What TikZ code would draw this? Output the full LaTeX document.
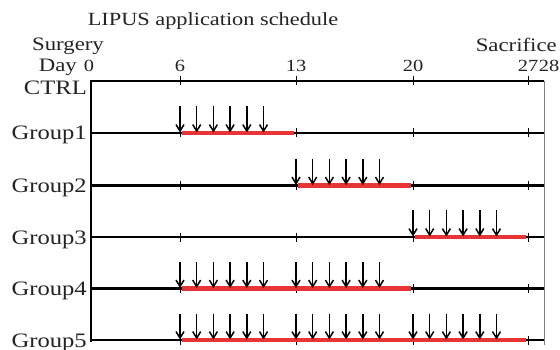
\documentclass[tikz,border=0pt]{standalone}
\usepackage{fontspec}
\setmainfont{Liberation Serif}
\newfontfamily\wideserif[FakeStretch=1.2]{Liberation Serif}
\usepackage{tikz}
\usetikzlibrary{arrows.meta}
\definecolor{barred}{RGB}{232,52,52}
\definecolor{inkgray}{RGB}{35,35,35}

\tikzset{
  rowline/.style={line width=2.2pt,black},
  redbar/.style={line width=4.5pt,barred},
  tickmark/.style={line width=0.9pt,black},
  shot/.style={line width=1.5pt,-{Straight Barb[length=6.5pt,width=8pt]}},
  lbl/.style={inner sep=0pt,text=inkgray,font={\wideserif\fontsize{20.5}{21}\selectfont}},
  toplbl/.style={inner sep=0pt,text=inkgray,font={\wideserif\fontsize{19}{20}\selectfont}},
  daylbl/.style={inner sep=0pt,text=inkgray,font={\wideserif\fontsize{17}{18}\selectfont}}
}

% six daily shots from day #2 on row #1
\newcommand\shots[2]{%
  \foreach \k in {0,...,5}{
    \path (#1-#2) ++(\k*16.7,-0.5) coordinate (tip) ++(0,-26) coordinate (tail);
    \draw[shot] (tail) -- (tip);
  }}

\begin{document}
\begin{tikzpicture}[x=1pt,y=-1pt]
    \useasboundingbox (0,0) rectangle (560,350);

    % day positions on every row
    \foreach \r/\y in {ctrl/81,g1/133,g2/185.5,g3/237,g4/288.5,g5/340}{
      \foreach \d/\x in {0/91,6/180,13/296,20/413,27/528,28/544}{
        \coordinate (\r-\d) at (\x,\y);
      }
    }
    \coordinate (axtop) at (91,79.9);
    \coordinate (axbot) at (91,342);
    \coordinate (endtop) at (544,81);
    \coordinate (endbot) at (544,345);

    \node[toplbl,font={\wideserif\fontsize{18.6}{19}\selectfont},anchor=base] (title) at (213,26) {LIPUS application schedule};
    \node[toplbl] (surgery) at (68,46) {Surgery};
    \node[toplbl,anchor=base east] (day) at (77,72) {Day};
    \node[daylbl,anchor=base] (n0) at (89,72) {0};
    \node[daylbl,anchor=base] (n6) at (180,72) {6};
    \node[daylbl,anchor=base] (n13) at (296,72) {13};
    \node[daylbl,anchor=base] (n20) at (413,72) {20};
    \node[daylbl,anchor=base] (n27) at (528,72) {27};
    \node[daylbl,anchor=base] (n28) at (549,72) {28};
    \node[toplbl,anchor=base east] (sacrifice) at (557,52) {Sacrifice};

    \node[lbl,anchor=base east] (ctrl) at (87,95) {CTRL};
    \node[lbl,anchor=base east] (grp1) at (87,140) {Group1};
    \node[lbl,anchor=base east] (grp2) at (87,192.5) {Group2};
    \node[lbl,anchor=base east] (grp3) at (87,244) {Group3};
    \node[lbl,anchor=base east] (grp4) at (87,295.5) {Group4};
    \node[lbl,anchor=base east] (grp5) at (87,347) {Group5};

    % frame
    \draw[line width=0.8pt,gray] (endtop) -- (endbot);
    \draw[line width=2.6pt] (axtop) -- (axbot);

    % rows
    \foreach \r in {ctrl,g1,g2,g3,g4,g5}{
      \draw[rowline] (\r-0) -- (\r-28);
    }

    % ticks
    \foreach \r in {ctrl,g1,g2,g3,g4,g5}{
      \foreach \d in {6,13,20,27}{
        \draw[tickmark] (\r-\d) ++(0,-4.5) -- ++(0,9);
      }
    }

    % LIPUS periods
    \draw[redbar] ([xshift=2pt]g1-6) -- ([xshift=-2pt]g1-13);
    \draw[redbar] ([xshift=2pt]g2-13) -- ([xshift=-2pt]g2-20);
    \draw[redbar] ([xshift=2pt]g3-20) -- ([xshift=-2pt]g3-27);
    \draw[redbar] ([xshift=2pt]g4-6) -- ([xshift=-2pt]g4-20);
    \draw[redbar] ([xshift=2pt]g5-6) -- ([xshift=-2pt]g5-27);

    % shots
    \shots{g1}{6}
    \shots{g2}{13}
    \shots{g3}{20}
    \shots{g4}{6}
    \shots{g4}{13}
    \shots{g5}{6}
    \shots{g5}{13}
    \shots{g5}{20}
\end{tikzpicture}
\end{document}
